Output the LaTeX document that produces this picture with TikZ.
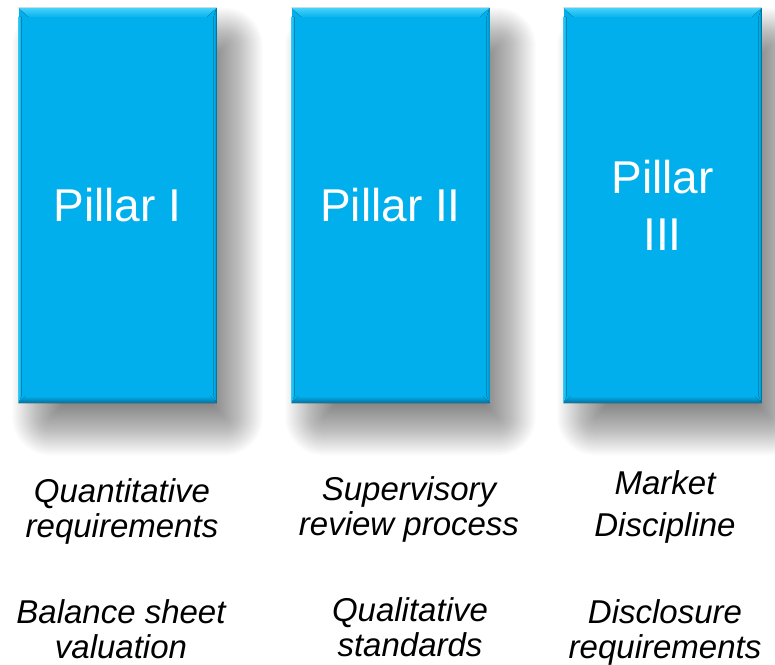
\documentclass[tikz,border=0pt]{standalone}
\usepackage{fontspec}
\setmainfont{Liberation Sans}
\usetikzlibrary{backgrounds}
\definecolor{pillarblue}{RGB}{0,175,236}
\definecolor{bevlight}{RGB}{70,210,250}
\definecolor{bevdark}{RGB}{8,110,155}
\definecolor{edgedark}{RGB}{0,140,195}
\tikzset{
  pillar/.style={fill=pillarblue, draw=none, minimum width=198pt, minimum height=395pt,
    inner sep=0pt, text=white, align=center,
    font=\fontsize{46}{57}\selectfont},
  shadowlayer/.style={fill=black, fill opacity=0.015},
  label/.style={align=center, text=black, inner sep=0pt,
    font=\itshape\fontsize{33}{35}\selectfont}
}
\begin{document}
\begin{tikzpicture}[x=1pt,y=1pt]
\useasboundingbox (0,0) rectangle (775,664);
\node[pillar] (p1) at (117.5,458.5) {Pillar I};
\node[pillar] (p2) at (390.5,458.5) {Pillar II};
\node[pillar] (p3) at (662.5,458.5) {Pillar\\III};
\begin{pgfonlayer}{background}
  \fill[white] (0,0) rectangle (775,664);
  \foreach \n in {p1,p2,p3}{
    \foreach \i in {0,...,33}{
      \pgfmathsetmacro{\e}{26-1.5*\i}
      \pgfmathsetmacro{\r}{max(2,\e+12)}
      \fill[shadowlayer, rounded corners=\r pt]
        ([xshift={20-\e}, yshift={-26-\e}]\n.south west)
        rectangle ([xshift={20+\e}, yshift={-26+\e}]\n.north east);
    }
  }
\end{pgfonlayer}
\foreach \n in {p1,p2,p3}{
  % top bevel
  \fill[top color=bevlight, bottom color=pillarblue!85!bevlight]
    (\n.north west) -- (\n.north east) -- ([xshift=-10pt,yshift=-9pt]\n.north east)
    -- ([xshift=10pt,yshift=-9pt]\n.north west) -- cycle;
  % bottom bevel
  \fill[top color=pillarblue, bottom color=bevdark]
    ([xshift=7pt,yshift=7pt]\n.south west) -- ([xshift=-7pt,yshift=7pt]\n.south east)
    -- (\n.south east) -- (\n.south west) -- cycle;
  % side edges
  \fill[left color=bevlight!70!pillarblue, right color=pillarblue]
    ([yshift=-9pt]\n.north west) -- ([xshift=3pt,yshift=-9pt]\n.north west)
    -- ([xshift=3pt,yshift=7pt]\n.south west) -- (\n.south west) -- cycle;
  \fill[left color=pillarblue, right color=edgedark]
    ([xshift=-3pt,yshift=-9pt]\n.north east) -- (\n.north east)
    -- (\n.south east) -- ([xshift=-3pt,yshift=7pt]\n.south east) -- cycle;
}
\node[label] (q1) at (122,153) {Quantitative\\requirements};
\node[label] (q2) at (409,155) {Supervisory\\review process};
\node[label,font=\itshape\fontsize{33}{42}\selectfont] (q3) at (665,157) {Market\\Discipline};
\node[label] (b1) at (121,35) {Balance sheet\\valuation};
\node[label] (b2) at (410,37) {Qualitative\\standards};
\node[label] (b3) at (665,32) {Disclosure\\requirements};
\end{tikzpicture}
\end{document}
